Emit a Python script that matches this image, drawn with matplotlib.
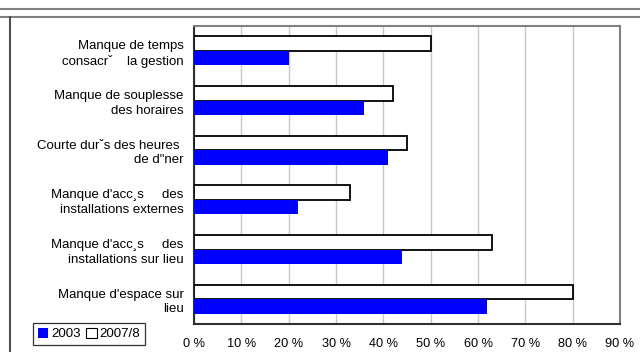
import matplotlib
matplotlib.use("Agg")
import matplotlib.pyplot as plt
from matplotlib.lines import Line2D
from matplotlib.patches import Patch

plt.rcParams['font.family'] = ['Liberation Sans', 'DejaVu Sans']

categories = [
    "Manque de temps\nconsacrˇ    la gestion",
    "Manque de souplesse\ndes horaires",
    "Courte durˇs des heures \nde d\"ner",
    "Manque d'acc¸s     des\ninstallations externes",
    "Manque d'acc¸s     des\ninstallations sur lieu",
    "Manque d'espace sur\nlieu",
]
values_2003 = [20, 36, 41, 22, 44, 62]
values_2007 = [50, 42, 45, 33, 63, 80]
xticks = [0, 10, 20, 30, 40, 50, 60, 70, 80, 90]
xtick_labels = [f"{t} %" for t in xticks]

fig = plt.figure(figsize=(6.4, 3.52), dpi=100)
ax = fig.add_axes([194/640, 1-324/352, (620-194)/640, (324-26)/352])

idx = list(range(len(categories)))
h = 0.29
ax.barh([i - h/2 for i in idx], values_2007, height=h, color='white',
        edgecolor='black', linewidth=1.3, label='2007/8', zorder=3)
ax.barh([i + h/2 for i in idx], values_2003, height=h, color='#0000ff',
        edgecolor='none', label='2003', zorder=3)

ax.set_ylim(len(categories) - 0.5, -0.5)
ax.set_xlim(0, 90)
ax.set_xticks(xticks)
ax.set_xticklabels(xtick_labels, fontsize=9.2)
ax.set_yticks(idx)
ax.set_yticklabels(categories, fontsize=9.5, ha='right', linespacing=1.28)
ax.tick_params(axis='both', length=0)
ax.tick_params(axis='x', pad=10)
ax.tick_params(axis='y', pad=7.5)
ax.xaxis.grid(True, color='#c8c8c8', linewidth=1, zorder=0)
ax.set_axisbelow(True)
for s in ['top', 'right']:
    ax.spines[s].set_color('#808080')
    ax.spines[s].set_linewidth(1.5)
for s in ['left', 'bottom']:
    ax.spines[s].set_color('#303030')
    ax.spines[s].set_linewidth(1.5)

handles = [Patch(facecolor='#0000ff', edgecolor='none'),
           Patch(facecolor='white', edgecolor='black', linewidth=0.8)]
leg = fig.legend(handles, ['2003', '2007/8'], loc='lower left',
                 bbox_to_anchor=(33/640, 7/352), ncol=2, fontsize=9.6,
                 frameon=True, fancybox=False, handlelength=0.8,
                 handleheight=0.8, handletextpad=0.2, columnspacing=0.4,
                 borderpad=0.35, borderaxespad=0)
leg.get_frame().set_edgecolor('black')
leg.get_frame().set_linewidth(0.9)

# page decorations
fig.add_artist(Line2D([0, 1], [1-8.5/352, 1-8.5/352], color='#808080', linewidth=1.5))
fig.add_artist(Line2D([0, 1], [1-16.5/352, 1-16.5/352], color='#808080', linewidth=1.5))
fig.add_artist(Line2D([9.5/640, 9.5/640], [0, 1-16.5/352], color='#505050', linewidth=1.5))

fig.savefig('out.png', dpi=100)
